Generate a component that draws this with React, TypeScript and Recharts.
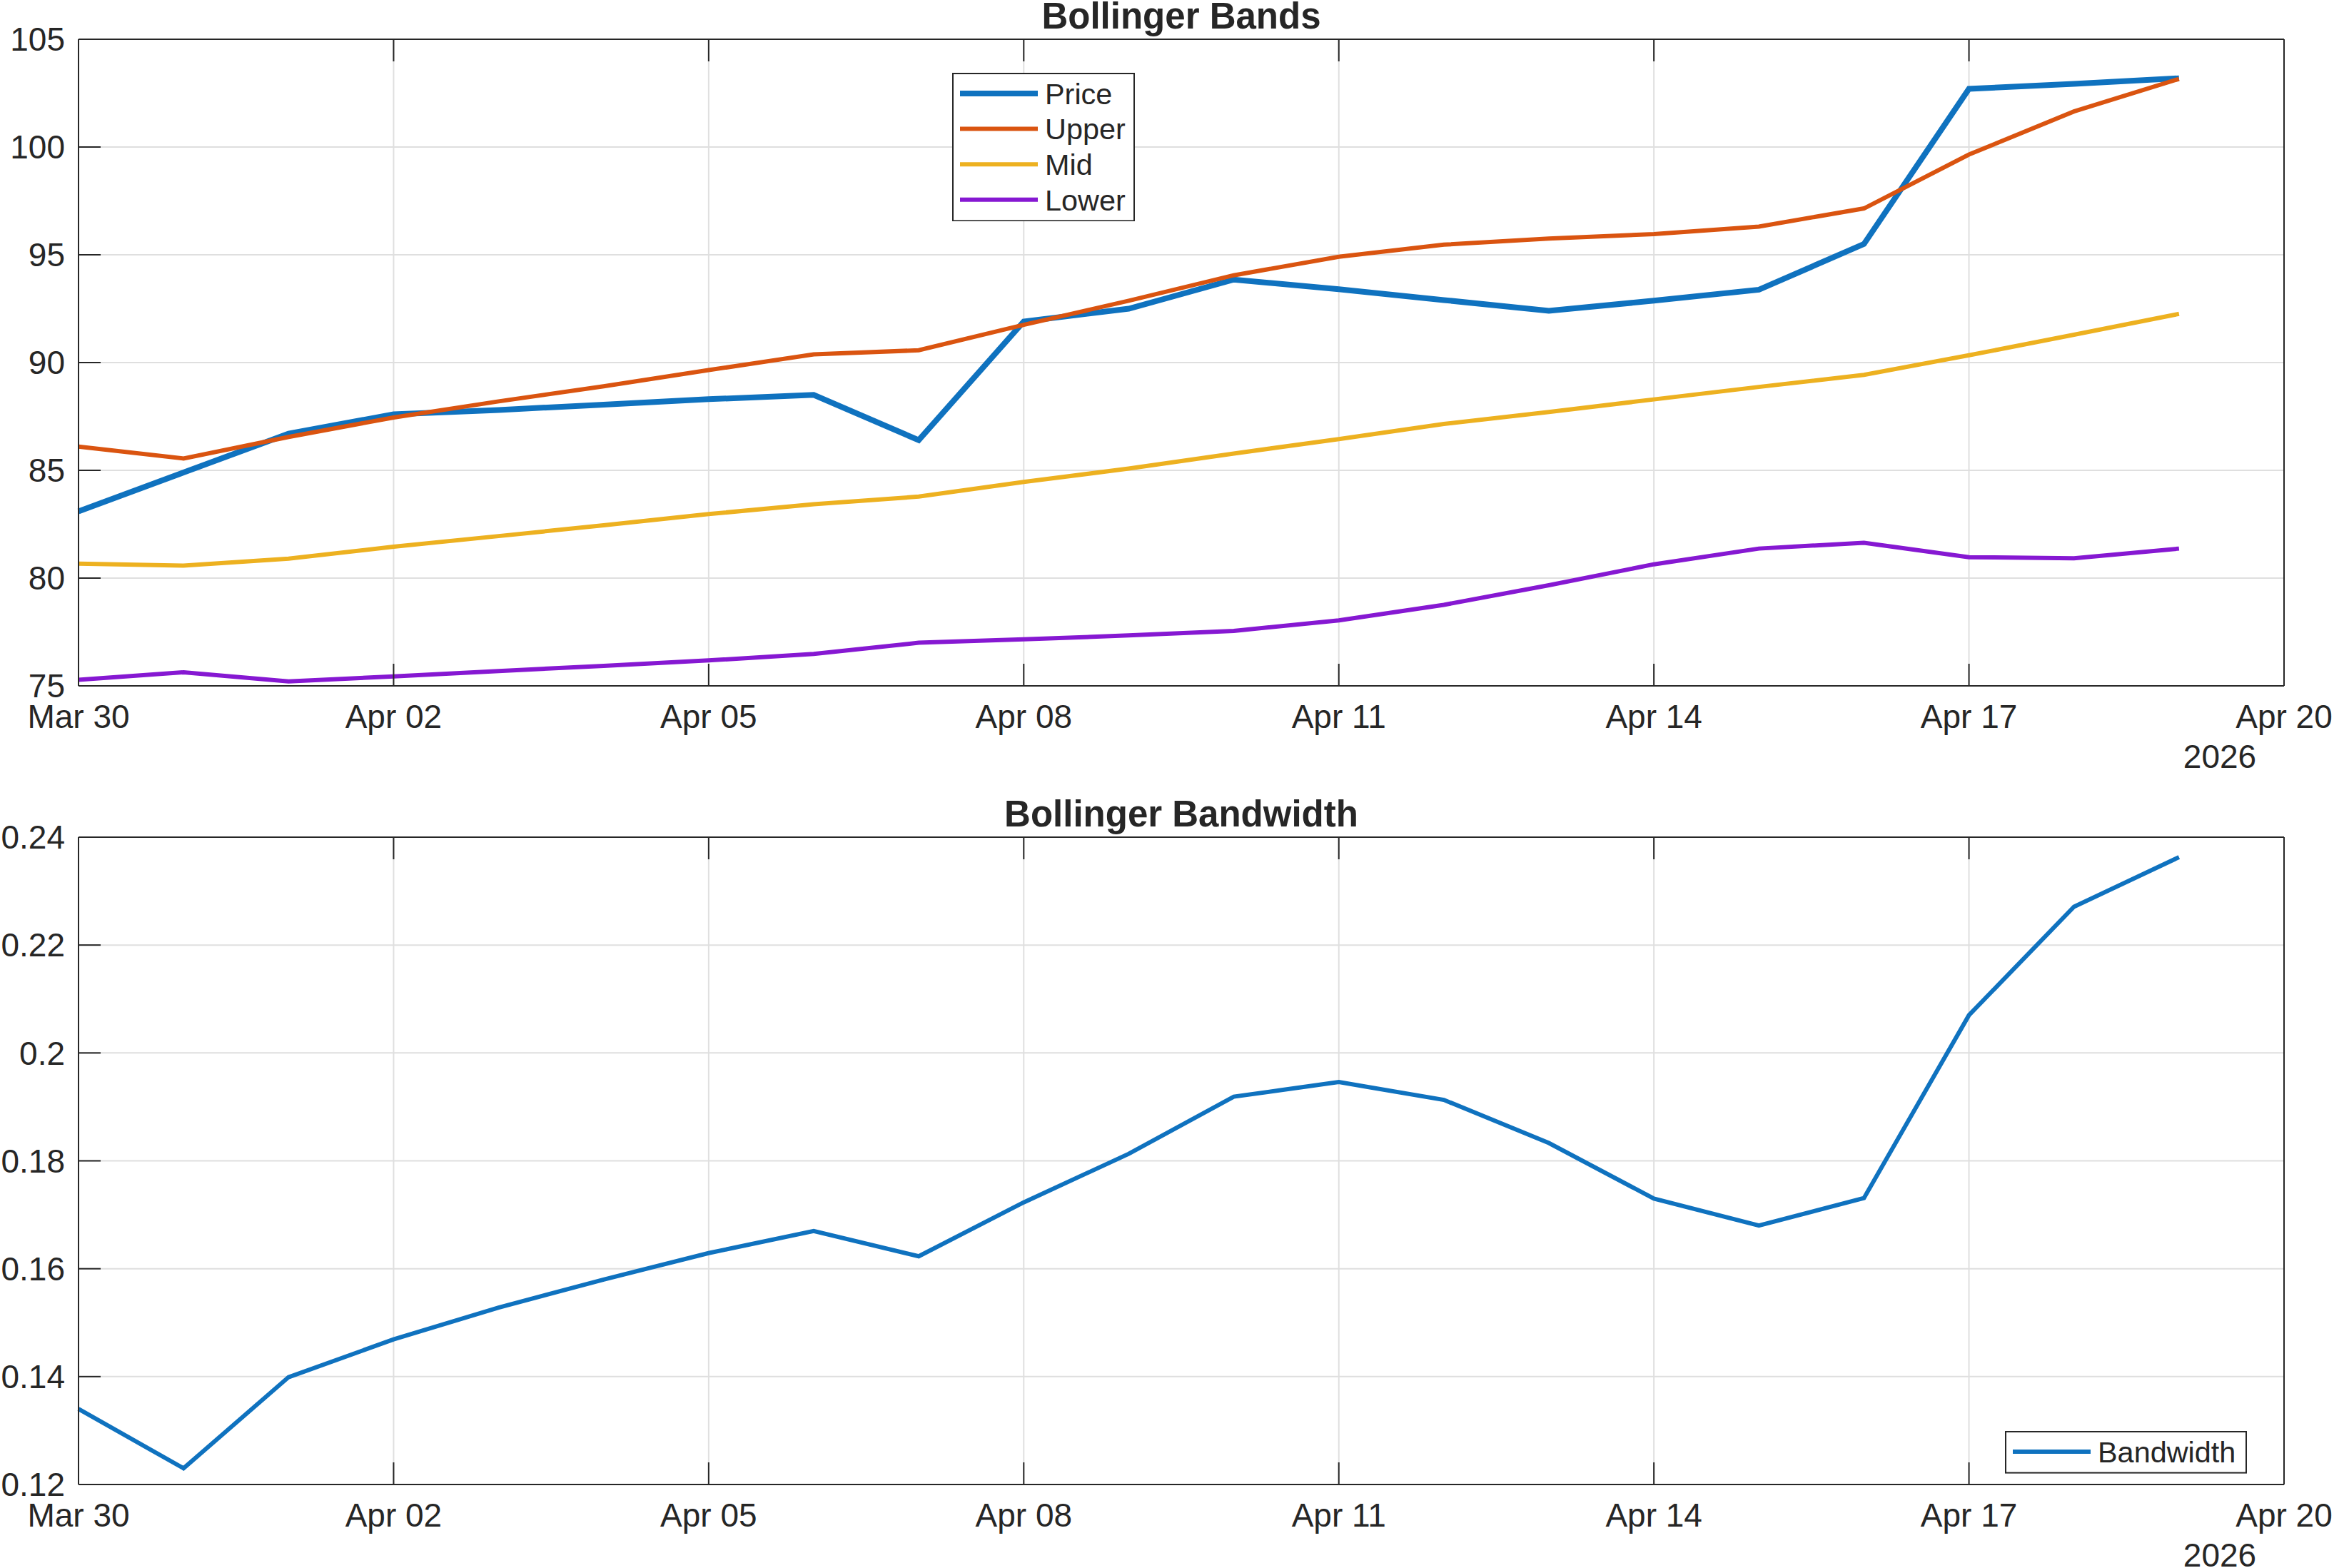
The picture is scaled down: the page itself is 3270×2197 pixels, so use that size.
import { CartesianGrid, Legend, Line, LineChart, XAxis, YAxis } from "recharts";

// daily closes and 20-day bands, Mar 30 .. Apr 19 2026
const dates = [
  "2026-03-30", "2026-03-31", "2026-04-01", "2026-04-02", "2026-04-03", "2026-04-04", "2026-04-05",
  "2026-04-06", "2026-04-07", "2026-04-08", "2026-04-09", "2026-04-10", "2026-04-11", "2026-04-12",
  "2026-04-13", "2026-04-14", "2026-04-15", "2026-04-16", "2026-04-17", "2026-04-18", "2026-04-19"
];
const price = [
  83.1, 84.9, 86.7, 87.6, 87.8, 88.05, 88.3, 88.5, 86.4, 91.9, 92.5, 93.85, 93.4, 92.9, 92.4, 92.87,
  93.38, 95.5, 102.7, 102.93, 103.19
];
const upper = [
  86.1, 85.55, 86.55, 87.45, 88.2, 88.9, 89.65, 90.38, 90.57, 91.75, 92.87, 94.05, 94.91, 95.47, 95.75,
  95.96, 96.31, 97.15, 99.65, 101.65, 103.16
];
const mid = [
  80.67, 80.58, 80.9, 81.46, 81.95, 82.45, 82.97, 83.43, 83.78, 84.46, 85.08, 85.78, 86.45, 87.15, 87.71,
  88.29, 88.87, 89.43, 90.34, 91.29, 92.26
];
const lower = [
  75.28, 75.63, 75.21, 75.44, 75.69, 75.93, 76.18, 76.48, 77.0, 77.16, 77.34, 77.55, 78.04, 78.76, 79.67,
  80.64, 81.37, 81.64, 80.97, 80.92, 81.37
];
const bandwidth = [
  0.134, 0.123, 0.1399, 0.1469, 0.1528, 0.158, 0.1629, 0.167, 0.1623, 0.1723, 0.1813, 0.1919, 0.1946,
  0.1913, 0.1833, 0.173, 0.168, 0.1731, 0.207, 0.2271, 0.2363
];

const dateTicks = [
  "2026-03-30", "2026-04-02", "2026-04-05", "2026-04-08", "2026-04-11", "2026-04-14", "2026-04-17", "2026-04-20"
];
const bandTicks = [75, 80, 85, 90, 95, 100, 105];
const widthTicks = [0.12, 0.14, 0.16, 0.18, 0.2, 0.22, 0.24];

const INK = "#262626";
const GRID = "#dfdfdf";
const FONT = '"Liberation Sans", Arial, Helvetica, sans-serif';
const months = ["Jan", "Feb", "Mar", "Apr", "May", "Jun", "Jul", "Aug", "Sep", "Oct", "Nov", "Dec"];

const bandSeries = [
  { key: "price", name: "Price", color: "#0F72BF", width: 8 },
  { key: "upper", name: "Upper", color: "#DA5410", width: 6 },
  { key: "mid", name: "Mid", color: "#EDB120", width: 6 },
  { key: "lower", name: "Lower", color: "#8618D2", width: 6 }
];
const widthSeries = [{ key: "bandwidth", name: "Bandwidth", color: "#0F72BF", width: 6 }];

const toTime = (d: string) => Date.parse(d + "T00:00:00Z");
const fmtDay = (t: number) => {
  const d = new Date(t);
  return `${months[d.getUTCMonth()]} ${String(d.getUTCDate()).padStart(2, "0")}`;
};

const rows = dates.map((d, i) => ({
  t: toTime(d),
  price: price[i],
  upper: upper[i],
  mid: mid[i],
  lower: lower[i],
  bandwidth: bandwidth[i]
}));
const xTicks = dateTicks.map(toTime);
const xDomain = [xTicks[0], xTicks[xTicks.length - 1]];

const axisLine = { stroke: INK, strokeWidth: 2 };
const tickFont = { fontSize: 46, fill: INK, fontFamily: FONT };

// mirrored axes (top / right) keep their tick marks but carry no labels
const NoLabel = () => <g />;

function DateTick(props: any) {
  const { x, y, payload } = props;
  const t = payload.value as number;
  const isLast = t === xTicks[xTicks.length - 1];
  return (
    <g>
      <text x={x} y={y + 33} textAnchor="middle" {...tickFont}>
        {fmtDay(t)}
      </text>
      {isLast && (
        <text x={x - 90} y={y + 89} textAnchor="middle" {...tickFont}>
          {new Date(t).getUTCFullYear()}
        </text>
      )}
    </g>
  );
}

type Series = { key: string; name: string; color: string; width: number };

function LegendBox({ series, width, rowGap }: { series: Series[]; width: number; rowGap: number }) {
  const height = series.length * rowGap + 10;
  return (
    <svg width={width} height={height} style={{ display: "block" }}>
      <rect x={1} y={1} width={width - 2} height={height - 2} fill="#fff" stroke={INK} strokeWidth={2} />
      {series.map((s, i) => {
        const cy = 29 + i * rowGap;
        return (
          <g key={s.key}>
            <line x1={11} x2={120} y1={cy} y2={cy} stroke={s.color} strokeWidth={s.width} />
            <text x={130} y={cy + 14.8} fontSize={41.4} fill={INK} fontFamily={FONT}>
              {s.name}
            </text>
          </g>
        );
      })}
    </svg>
  );
}

interface PanelProps {
  title: string;
  height: number;
  topGap: number;
  bottomGap: number;
  yDomain: number[];
  yTicks: number[];
  yFormat?: (v: number) => string;
  series: Series[];
  legendAt: { left: number; top: number; width: number; rowGap: number };
}

function Panel({ title, height, topGap, bottomGap, yDomain, yTicks, yFormat, series, legendAt }: PanelProps) {
  return (
    <div style={{ position: "relative", width: 3270, height }}>
      <LineChart width={3270} height={height} data={rows} margin={{ top: 0, right: 0, bottom: 0, left: 0 }}>
        <CartesianGrid xAxisId="b" yAxisId="l" stroke={GRID} strokeWidth={2} />
        <XAxis
          xAxisId="b"
          dataKey="t"
          type="number"
          domain={xDomain}
          ticks={xTicks}
          interval={0}
          height={bottomGap}
          tickSize={-31}
          tickMargin={57}
          tick={<DateTick />}
          axisLine={axisLine}
          tickLine={axisLine}
        />
        <XAxis
          xAxisId="t"
          orientation="top"
          dataKey="t"
          type="number"
          domain={xDomain}
          ticks={xTicks}
          interval={0}
          height={topGap}
          tickSize={-31}
          tick={NoLabel}
          axisLine={axisLine}
          tickLine={axisLine}
        />
        <YAxis
          yAxisId="l"
          type="number"
          domain={yDomain}
          ticks={yTicks}
          interval={0}
          width={110}
          tickSize={-31}
          tickMargin={50}
          tick={tickFont}
          tickFormatter={yFormat}
          axisLine={axisLine}
          tickLine={axisLine}
        />
        <YAxis
          yAxisId="r"
          orientation="right"
          type="number"
          domain={yDomain}
          ticks={yTicks}
          interval={0}
          width={70}
          tickSize={-31}
          tick={NoLabel}
          axisLine={axisLine}
          tickLine={axisLine}
        />
        {series.map((s) => (
          <Line
            key={s.key}
            xAxisId="b"
            yAxisId="l"
            type="linear"
            dataKey={s.key}
            name={s.name}
            stroke={s.color}
            strokeWidth={s.width}
            dot={false}
            activeDot={false}
            isAnimationActive={false}
          />
        ))}
        <Legend
          layout="vertical"
          align="center"
          verticalAlign="middle"
          wrapperStyle={{ left: legendAt.left, top: legendAt.top, width: legendAt.width, margin: 0 }}
          content={() => <LegendBox series={series} width={legendAt.width} rowGap={legendAt.rowGap} />}
        />
      </LineChart>
      <svg width={3270} height={topGap} style={{ position: "absolute", left: 0, top: 0, pointerEvents: "none" }}>
        <text x={1655} y={topGap - 15} textAnchor="middle" fontSize={51} fontWeight="bold" fill={INK} fontFamily={FONT}>
          {title}
        </text>
      </svg>
    </div>
  );
}

export default function App() {
  return (
    <div style={{ width: 3270, height: 2197, background: "#fff", overflow: "hidden", fontFamily: FONT }}>
      <style>{"body{margin:0}"}</style>
      <Panel
        title="Bollinger Bands"
        height={1100}
        topGap={55}
        bottomGap={139}
        yDomain={[75, 105]}
        yTicks={bandTicks}
        series={bandSeries}
        legendAt={{ left: 1334, top: 102, width: 256, rowGap: 49.6 }}
      />
      <Panel
        title="Bollinger Bandwidth"
        height={1097}
        topGap={73}
        bottomGap={117}
        yDomain={[0.12, 0.24]}
        yTicks={widthTicks}
        yFormat={(v: number) => String(Number(v.toFixed(2)))}
        series={widthSeries}
        legendAt={{ left: 2809, top: 905, width: 339, rowGap: 49.6 }}
      />
    </div>
  );
}
